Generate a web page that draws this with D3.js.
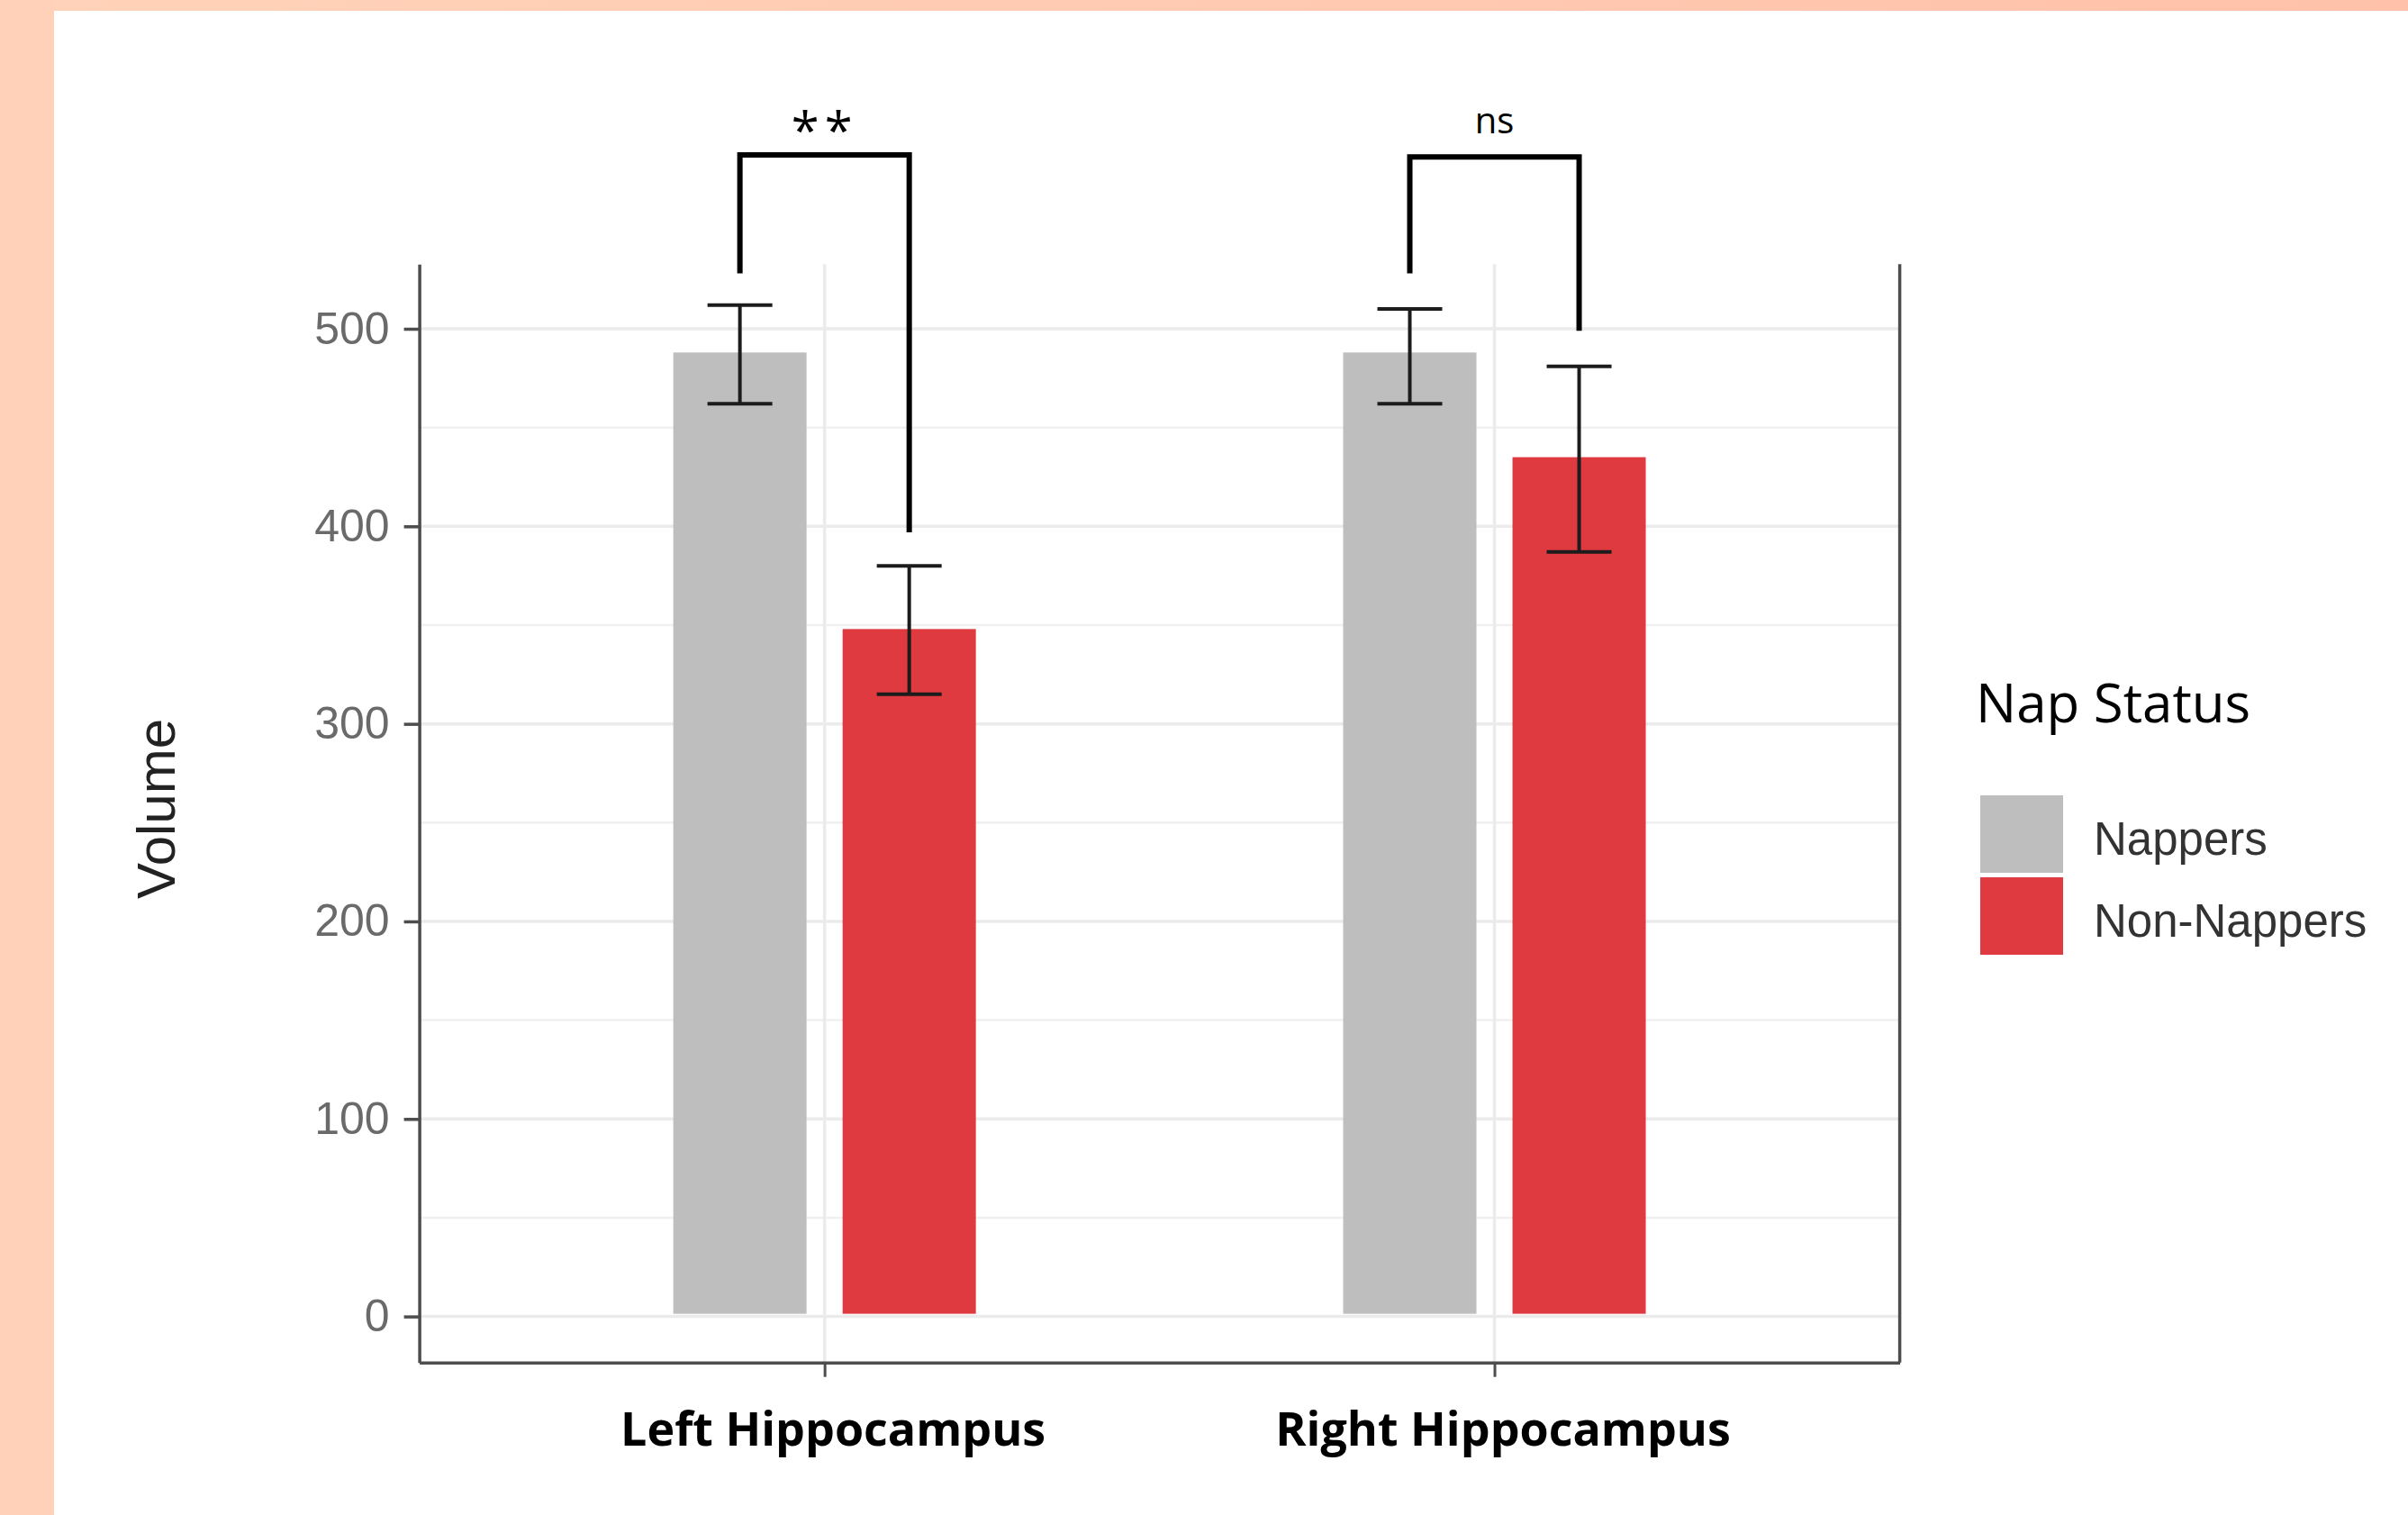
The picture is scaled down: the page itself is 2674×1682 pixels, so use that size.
<!DOCTYPE html>
<html>
<head>
<meta charset="utf-8">
<script src="https://cdn.jsdelivr.net/npm/d3@7"></script>
<style>
  html, body { margin: 0; padding: 0; background: #fff; }
  svg { display: block; }
</style>
</head>
<body>
<div id="chart"></div>
<script>
// data
const regions = ['Left Hippocampus', 'Right Hippocampus'];
const groups = ['Nappers', 'Non-Nappers'];
const nappersMean = [488, 488];
const nappersLow = [462, 462];
const nappersHigh = [512, 510];
const nonNappersMean = [348, 435];
const nonNappersLow = [315, 387];
const nonNappersHigh = [380, 481];
const yTicks = [0, 100, 200, 300, 400, 500];
const yMinor = [50, 150, 250, 350, 450];
const sigLabels = ['**', 'ns'];
const bracketTop = [588, 587];
const bracketNappersEnd = [528, 528];
const bracketNonEnd = [397, 499];

const colors = { 'Nappers': '#bebebe', 'Non-Nappers': '#df3a3f' };

const width = 2674, height = 1682;
const panel = { left: 465.6, right: 2109.6, top: 293.3, bottom: 1512.7 };

const svg = d3.select('#chart')
  .append('svg')
  .attr('width', width)
  .attr('height', height);

// peach frame
const defs = svg.append('defs');
const grad = defs.append('linearGradient').attr('id', 'topband')
  .attr('x1', '0%').attr('x2', '100%');
grad.append('stop').attr('offset', '0%').attr('stop-color', '#ffd3b9');
grad.append('stop').attr('offset', '100%').attr('stop-color', '#ffc1aa');
svg.append('rect').attr('x', 0).attr('y', 0).attr('width', width).attr('height', 12)
  .attr('fill', 'url(#topband)');
svg.append('rect').attr('x', 0).attr('y', 0).attr('width', 60).attr('height', height)
  .attr('fill', '#ffd1b8');

// scales
const y = d3.scaleLinear().domain([-23.3, 532.7]).range([panel.bottom, panel.top]);
const x0 = d3.scalePoint().domain(regions).range([panel.left, panel.right]).padding(0.605);
const x1 = d3.scaleBand().domain(groups).range([-168, 168]).paddingInner(0.213);

// rows for bars
const rows = [];
regions.forEach((r, i) => {
  rows.push({ region: r, group: 'Nappers', mean: nappersMean[i], low: nappersLow[i], high: nappersHigh[i] });
  rows.push({ region: r, group: 'Non-Nappers', mean: nonNappersMean[i], low: nonNappersLow[i], high: nonNappersHigh[i] });
});
const cx = d => x0(d.region) + x1(d.group) + x1.bandwidth() / 2;

// grid
const grid = svg.append('g');
grid.selectAll('.minor')
  .data(yMinor)
  .enter()
  .append('line')
  .attr('x1', panel.left).attr('x2', panel.right)
  .attr('y1', d => y(d)).attr('y2', d => y(d))
  .attr('stroke', '#f0f0f0').attr('stroke-width', 2.5);
grid.selectAll('.major')
  .data(yTicks)
  .enter()
  .append('line')
  .attr('x1', panel.left).attr('x2', panel.right)
  .attr('y1', d => y(d)).attr('y2', d => y(d))
  .attr('stroke', '#ebebeb').attr('stroke-width', 3.5);
grid.selectAll('.vmajor')
  .data(regions)
  .enter()
  .append('line')
  .attr('x1', d => x0(d)).attr('x2', d => x0(d))
  .attr('y1', panel.top).attr('y2', panel.bottom)
  .attr('stroke', '#ebebeb').attr('stroke-width', 3.5);

// bars
svg.selectAll('.bar')
  .data(rows)
  .enter()
  .append('rect')
  .attr('x', d => x0(d.region) + x1(d.group))
  .attr('y', d => y(d.mean))
  .attr('width', x1.bandwidth())
  .attr('height', d => y(0) - y(d.mean) - 3)
  .attr('fill', d => colors[d.group]);

// error bars
const capHalf = 36;
const err = svg.append('g').attr('stroke', '#1c1c1c').attr('stroke-width', 4);
err.selectAll('.v')
  .data(rows)
  .enter()
  .append('line')
  .attr('x1', cx).attr('x2', cx)
  .attr('y1', d => y(d.low)).attr('y2', d => y(d.high));
err.selectAll('.top')
  .data(rows)
  .enter()
  .append('line')
  .attr('x1', d => cx(d) - capHalf).attr('x2', d => cx(d) + capHalf)
  .attr('y1', d => y(d.high)).attr('y2', d => y(d.high));
err.selectAll('.bot')
  .data(rows)
  .enter()
  .append('line')
  .attr('x1', d => cx(d) - capHalf).attr('x2', d => cx(d) + capHalf)
  .attr('y1', d => y(d.low)).attr('y2', d => y(d.low));

// axes
const yAxis = svg.append('g')
  .attr('transform', 'translate(' + panel.left + ',0)')
  .call(d3.axisLeft(y).tickValues(yTicks).tickSize(17).tickSizeOuter(0).tickPadding(16));
yAxis.select('.domain').attr('stroke', '#4d4d4d').attr('stroke-width', 3.5);
yAxis.selectAll('.tick line').attr('stroke', '#4d4d4d').attr('stroke-width', 3.5);
yAxis.selectAll('.tick text')
  .attr('fill', '#6a6a6a')
  .style('font-family', '"Liberation Sans", Arial, sans-serif')
  .style('font-size', '50px');

const xAxis = svg.append('g')
  .attr('transform', 'translate(0,' + panel.bottom + ')')
  .call(d3.axisBottom(x0).tickSize(16).tickSizeOuter(0).tickPadding(39));
xAxis.select('.domain').attr('stroke', '#4d4d4d').attr('stroke-width', 3.5);
xAxis.selectAll('.tick line').attr('stroke', '#4d4d4d').attr('stroke-width', 3);
xAxis.selectAll('.tick text')
  .attr('fill', '#000')
  .attr('dx', 9)
  .style('font-family', '"Open Sans", sans-serif')
  .style('font-weight', 'bold')
  .style('font-size', '52px');

// right border
svg.append('line')
  .attr('x1', panel.right).attr('x2', panel.right)
  .attr('y1', panel.top).attr('y2', panel.bottom)
  .attr('stroke', '#4d4d4d').attr('stroke-width', 3.5);

// y title
svg.append('text')
  .attr('transform', 'translate(194,898) rotate(-90)')
  .attr('text-anchor', 'middle')
  .attr('fill', '#222')
  .style('font-family', '"Liberation Sans", Arial, sans-serif')
  .style('font-size', '60px')
  .text('Volume');

// significance brackets
const br = svg.append('g');
regions.forEach((r, i) => {
  const xa = x0(r) + x1('Nappers') + x1.bandwidth() / 2;
  const xb = x0(r) + x1('Non-Nappers') + x1.bandwidth() / 2;
  br.append('path')
    .attr('d', 'M' + xa + ',' + y(bracketNappersEnd[i]) + 'V' + y(bracketTop[i]) +
      'H' + xb + 'V' + y(bracketNonEnd[i]))
    .attr('fill', 'none')
    .attr('stroke', '#000')
    .attr('stroke-width', 6);
  const star = sigLabels[i] === '**';
  br.append('text')
    .attr('x', (xa + xb) / 2)
    .attr('y', y(bracketTop[i]) - (star ? 7 : 26))
    .attr('text-anchor', 'middle')
    .attr('fill', '#000')
    .style('font-family', '"Open Sans", sans-serif')
    .style('font-size', star ? '56px' : '40px')
    .style('letter-spacing', star ? '6px' : '0px')
    .text(sigLabels[i]);
});

// legend
const legend = svg.append('g');
legend.append('text')
  .attr('x', 2194).attr('y', 802)
  .attr('fill', '#000')
  .style('font-family', '"Open Sans", sans-serif')
  .style('font-size', '60px')
  .text('Nap Status');
const item = legend.selectAll('.item')
  .data(groups)
  .enter()
  .append('g')
  .attr('transform', (d, i) => 'translate(2199,' + (883 + i * 91) + ')');
item.append('rect')
  .attr('width', 92).attr('height', 86)
  .attr('fill', d => colors[d]);
item.append('text')
  .attr('x', 126).attr('y', 66)
  .attr('fill', '#333')
  .style('font-family', '"Liberation Sans", Arial, sans-serif')
  .style('font-size', '51px')
  .text(d => d);
</script>
</body>
</html>
